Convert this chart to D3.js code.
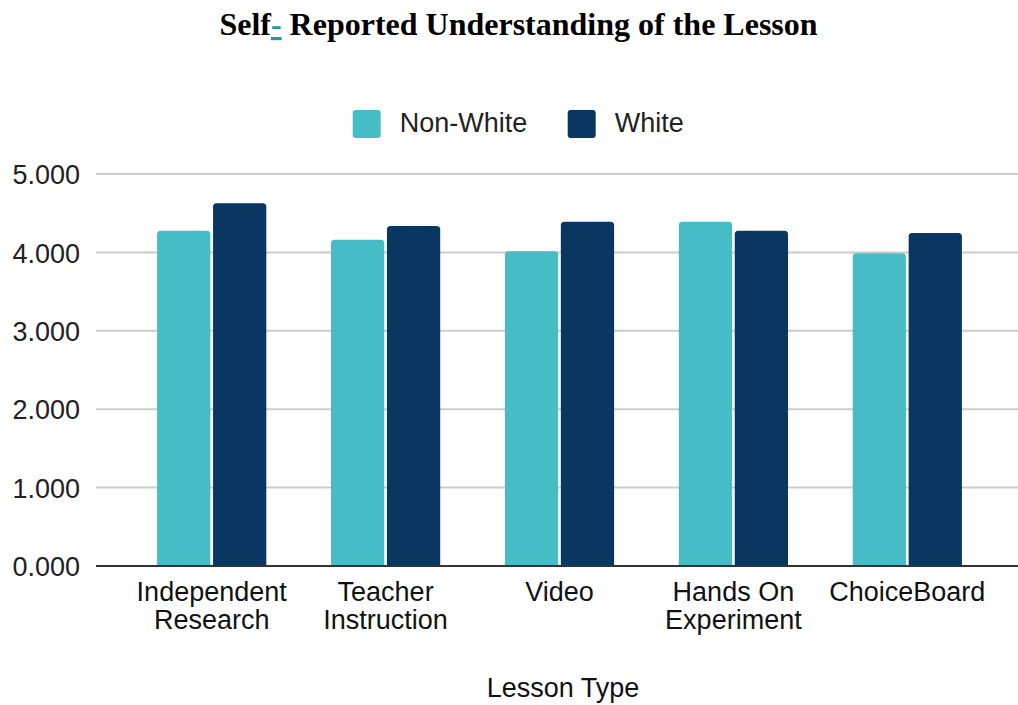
<!DOCTYPE html>
<html>
<head>
<meta charset="utf-8">
<script src="https://cdn.jsdelivr.net/npm/d3@7"></script>
<style>
  html, body { margin: 0; padding: 0; background: #fff; }
  svg { display: block; }
</style>
</head>
<body>
<svg id="chart" width="1018" height="705"></svg>
<script>
const categories = [["Independent", "Research"], ["Teacher", "Instruction"], ["Video"], ["Hands On", "Experiment"], ["ChoiceBoard"]];
const categoryKeys = ["Independent Research", "Teacher Instruction", "Video", "Hands On Experiment", "ChoiceBoard"];
const seriesNames = ["Non-White", "White"];
const nonWhite = [4.277, 4.162, 4.014, 4.392, 3.989];
const white = [4.626, 4.337, 4.392, 4.277, 4.247];
const yTicks = [0, 1, 2, 3, 4, 5];
const colors = ["#46bdc6", "#0a3761"];

const svg = d3.select("#chart");
const font = "'Liberation Sans', Arial, sans-serif";

const y = d3.scaleLinear().domain([0, 5]).range([566, 174]);
const x0 = d3.scaleBand().domain(categoryKeys).range([124.75, 994.25]).paddingInner(0.372).paddingOuter(0.186);
const x1 = d3.scaleBand().domain(seriesNames).range([0, x0.bandwidth()]).paddingInner(0.048);

// Title
const title = svg.append("text")
  .attr("x", 518.5).attr("y", 35)
  .attr("text-anchor", "middle")
  .style("font-family", "'Liberation Serif', 'Times New Roman', serif")
  .style("font-weight", "bold")
  .style("font-size", "32px")
  .attr("fill", "#000");
title.append("tspan").text("Self");
title.append("tspan").text("-").attr("fill", "#1f9aa0").style("text-decoration", "underline");
title.append("tspan").text(" Reported Understanding of the Lesson");

// Gridlines
const yAxis = d3.axisLeft(y).tickValues(yTicks).tickFormat(d3.format(".3f")).tickSize(0).tickPadding(16);
const gy = svg.append("g").attr("transform", "translate(96,0)").call(yAxis);
gy.select(".domain").remove();
gy.selectAll("text")
  .style("font-family", font).style("font-size", "27px").attr("fill", "#222")
  .attr("dy", "0.36em");
svg.append("g").selectAll("line").data(yTicks.filter(d => d > 0)).join("line")
  .attr("x1", 96).attr("x2", 1018)
  .attr("y1", d => y(d)).attr("y2", d => y(d))
  .attr("stroke", "#cccccc").attr("stroke-width", 2);

// Bars
function topRounded(x, yTop, w, h, r) {
  r = Math.min(r, h, w / 2);
  return `M${x},${yTop + h}V${yTop + r}Q${x},${yTop} ${x + r},${yTop}H${x + w - r}Q${x + w},${yTop} ${x + w},${yTop + r}V${yTop + h}Z`;
}
const seriesData = [nonWhite, white];
const groups = svg.append("g").selectAll("g").data(categoryKeys).join("g")
  .attr("transform", d => `translate(${x0(d)},0)`);
groups.selectAll("path").data((d, i) => seriesNames.map((s, j) => ({ s, v: seriesData[j][i], j })))
  .join("path")
  .attr("d", d => topRounded(x1(d.s), y(d.v), x1.bandwidth(), y(0) - y(d.v), 3.5))
  .attr("fill", d => colors[d.j]);

// Zero axis line
svg.append("line").attr("x1", 96).attr("x2", 1018).attr("y1", y(0)).attr("y2", y(0))
  .attr("stroke", "#333").attr("stroke-width", 2);

// X labels
const xl = svg.append("g").selectAll("text").data(categoryKeys).join("text")
  .attr("text-anchor", "middle")
  .attr("x", d => x0(d) + x0.bandwidth() / 2)
  .attr("y", 601)
  .style("font-family", font).style("font-size", "27px").attr("fill", "#111");
xl.each(function(d, i) {
  const t = d3.select(this);
  categories[i].forEach((line, k) => {
    t.append("tspan").attr("x", x0(d) + x0.bandwidth() / 2).attr("dy", k === 0 ? 0 : 28).text(line);
  });
});

// X axis title
svg.append("text").attr("x", 563).attr("y", 697).attr("text-anchor", "middle")
  .style("font-family", font).style("font-size", "27px").attr("fill", "#111")
  .text("Lesson Type");

// Legend
const legendX = [352.7, 567.7];
const lg = svg.append("g").selectAll("g").data(seriesNames).join("g")
  .attr("transform", (d, i) => `translate(${legendX[i]},110)`);
lg.append("rect").attr("width", 28).attr("height", 28).attr("rx", 3).attr("fill", (d, i) => colors[i]);
lg.append("text").attr("x", 47).attr("y", 22)
  .style("font-family", font).style("font-size", "27px").attr("fill", "#222")
  .text(d => d);
</script>
</body>
</html>
